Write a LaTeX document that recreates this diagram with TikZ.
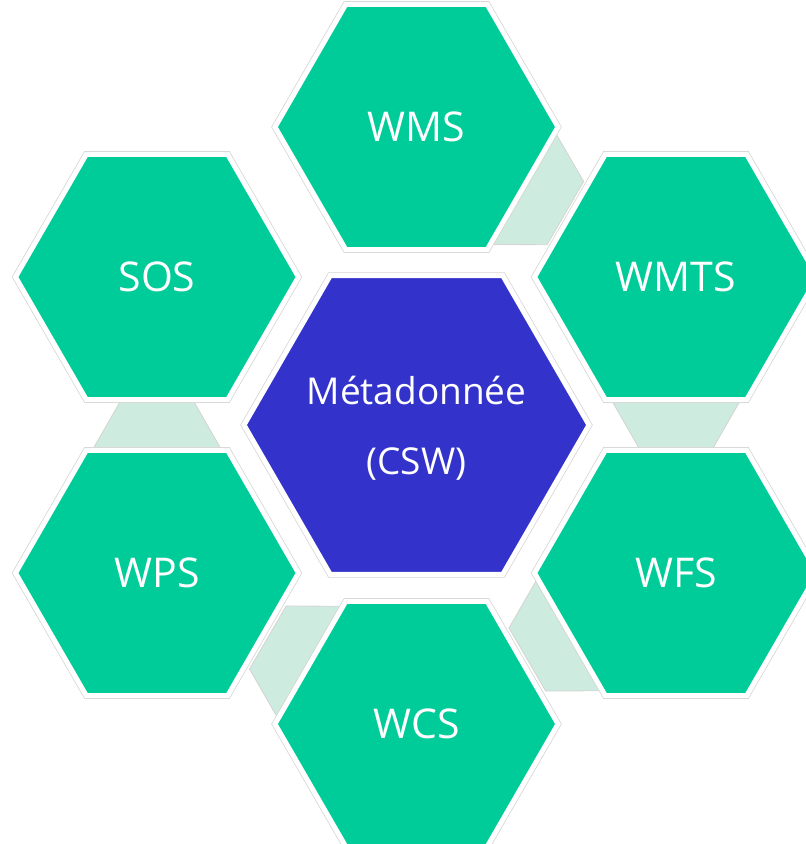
\documentclass[tikz,border=0pt]{standalone}
\usepackage{fontspec}
\setmainfont{Open Sans}
\usetikzlibrary{calc,shapes.geometric,backgrounds}
\definecolor{hexgreen}{RGB}{0,204,153}
\definecolor{hexblue}{RGB}{51,51,204}
\definecolor{linkgreen}{RGB}{205,235,222}
\definecolor{rimgray}{RGB}{212,212,212}
\tikzset{
  hexbase/.style={regular polygon, regular polygon sides=6, inner sep=0pt,
    preaction={draw=rimgray, line width=6.5pt},
    draw=white, line width=5pt},
  outerhex/.style={hexbase, fill=hexgreen, minimum size=283pt},
  centerhex/.style={hexbase, fill=hexblue, minimum size=345pt},
  hexlabel/.style={text=white, inner sep=0pt,
    font=\fontsize{41}{70}\selectfont, align=center},
  centerlabel/.style={hexlabel, font=\fontsize{37}{70}\selectfont},
  linkshape/.style={fill=linkgreen, draw=rimgray, line width=0.8pt}
}
\newcommand{\linktrap}[2]{%
  \fill[linkshape]
    ($(#1.center)!125pt!(#2.center)!63.5pt!90:(#2.center)$) --
    ($(#1.center)!125pt!(#2.center)!63.5pt!-90:(#2.center)$) --
    ($(#1.center)!172pt!(#2.center)!36.5pt!-90:(#2.center)$) --
    ($(#1.center)!172pt!(#2.center)!36.5pt!90:(#2.center)$) -- cycle;}
\begin{document}
\begin{tikzpicture}[x=1pt,y=-1pt]
\useasboundingbox (0,0) rectangle (806,844);
\node[centerhex] (csw) at (416.5,425) {};
\node[centerlabel] (cswtext) at (416.5,428) {Métadonnée\\(CSW)};
\node[outerhex] (wms)  at (416.5,127) {};
\node[hexlabel] (wmstext) at (wms.center) {WMS};
\node[outerhex] (wmts) at (676,277) {};
\node[hexlabel] (wmtstext) at (wmts.center) {WMTS};
\node[outerhex] (wfs)  at (676,573) {};
\node[hexlabel] (wfstext) at (wfs.center) {WFS};
\node[outerhex] (wcs)  at (416.5,724) {};
\node[hexlabel] (wcstext) at (wcs.center) {WCS};
\node[outerhex] (wps)  at (157,573) {};
\node[hexlabel] (wpstext) at (wps.center) {WPS};
\node[outerhex] (sos)  at (157,277) {};
\node[hexlabel] (sostext) at (sos.center) {SOS};
\begin{scope}[on background layer]
  \linktrap{wms}{wmts}
  \linktrap{wmts}{wfs}
  \linktrap{wfs}{wcs}
  \linktrap{wcs}{wps}
  \linktrap{wps}{sos}
\end{scope}
\end{tikzpicture}
\end{document}
